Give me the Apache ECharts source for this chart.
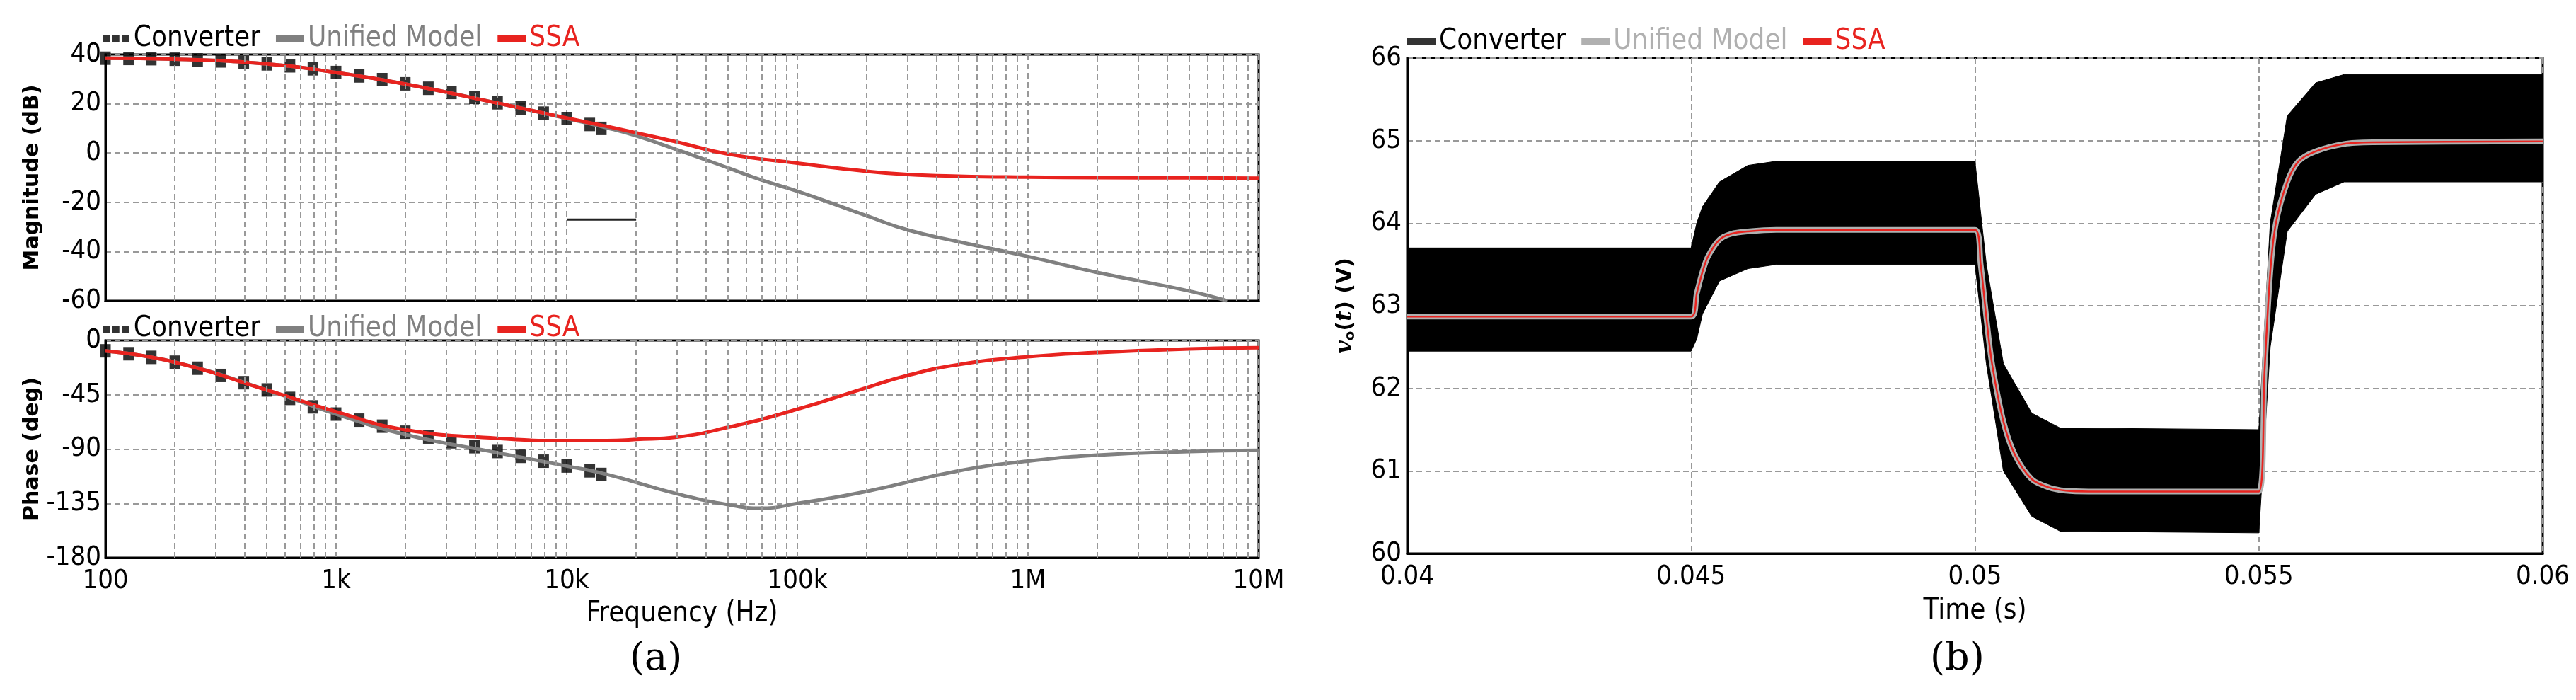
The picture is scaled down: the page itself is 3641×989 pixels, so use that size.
<!DOCTYPE html>
<html><head><meta charset="utf-8">
<script src="https://cdn.jsdelivr.net/npm/echarts@6/dist/echarts.min.js"></script>
<style>html,body{margin:0;background:#fff}#c{width:3641px;height:989px}</style></head>
<body><div id="c"></div>
<script>
// ---- Bode data ----
const convFreq = [100,126,158,200,251,316,398,501,631,794,1000,1259,1585,1995,2512,3162,3981,5012,6310,7943,10000,12589,14125];
const convMag  = [38.5,38.4,38.3,38.1,37.8,37.4,36.9,36.2,35.4,34.2,32.7,31.3,29.8,28.1,26.3,24.6,22.6,20.4,18.3,16.2,14,11.6,10];
const convPh   = [-8.6,-11,-14,-18,-23,-29,-35,-41,-48,-55,-61,-66,-71,-76,-80,-84,-88,-92,-96,-100,-104,-108,-111];
const uniFreq  = [100,200,500,1000,2000,5000,10000,15000,20000,30000,50000,70000,100000,200000,300000,500000,1000000,2000000,5000000,7300000];
const uniMag   = [38.5,38.1,36.2,32.7,28,20.3,14,10.2,7,1.4,-6,-11,-15.5,-25.5,-31.2,-36,-42,-48.5,-56,-60];
const uniPhF   = [100,200,500,1000,2000,5000,10000,15000,30000,50000,70000,100000,200000,500000,1000000,2000000,5000000,10000000];
const uniPh    = [-8.6,-18,-41,-61,-78,-93,-104,-111,-127,-136,-139,-135,-125,-108,-100,-95,-92,-91];
const ssaFreq  = [100,200,500,1000,2000,5000,10000,15000,20000,30000,50000,100000,200000,300000,500000,1000000,2000000,5000000,10000000];
const ssaMag   = [38.5,38.1,36.2,32.7,28,20.3,14.2,10.8,8.2,4.5,-0.4,-4.1,-7.4,-8.7,-9.4,-9.8,-10,-10.1,-10.2];
const ssaPh    = [-8.6,-18,-41,-59,-74,-81,-83,-83,-82,-80,-72,-57,-39,-29,-20,-13.5,-10,-7,-6];
const strayF   = [10000,20000];
const strayM   = [-27,-27];
const minorGrid = [200,300,400,500,600,700,800,900,2000,3000,4000,5000,6000,7000,8000,9000,20000,30000,40000,50000,60000,70000,80000,90000,200000,300000,400000,500000,600000,700000,800000,900000,2000000,3000000,4000000,5000000,6000000,7000000,8000000,9000000];
const freqLabels = {100:'100',1000:'1k',10000:'10k',100000:'100k',1000000:'1M',10000000:'10M'};
// ---- Time-domain data ----
const tEnv  = [0.04,0.045,0.0451,0.0452,0.0455,0.046,0.0465,0.05,0.0502,0.0505,0.051,0.0515,0.055,0.0552,0.0555,0.056,0.0565,0.06];
const envHi = [63.7,63.7,64.0,64.2,64.5,64.7,64.75,64.75,63.5,62.3,61.7,61.52,61.5,64.0,65.3,65.7,65.8,65.8];
const envLo = [62.45,62.45,62.6,62.9,63.3,63.45,63.5,63.5,62.3,61.0,60.45,60.27,60.25,62.5,63.9,64.35,64.5,64.5];
const tAvg  = [0.04,0.045,0.0451,0.0452,0.0453,0.0455,0.0457,0.046,0.0465,0.05,0.0501,0.0502,0.0503,0.0505,0.0507,0.051,0.0513,0.0516,0.052,0.055,0.0551,0.0552,0.0553,0.0555,0.0557,0.056,0.0565,0.057,0.06];
const vAvg  = [62.87,62.87,63.15,63.41,63.6,63.8,63.87,63.9,63.92,63.92,63.5,62.86,62.3,61.6,61.2,60.9,60.8,60.76,60.75,60.75,62.2,63.4,64.0,64.5,64.75,64.87,64.96,64.98,64.99];

const F = '"Liberation Sans Narrow","DejaVu Sans Condensed",sans-serif';
const gridLine = {show:true,lineStyle:{color:'#999',type:[8,5],width:2}};
const frame = {show:true,onZero:false,lineStyle:{color:'#000',width:3}};
const zip=(a,b)=>a.map((v,i)=>[v,b[i]]);
const tick = {fontFamily:F,fontSize:38,color:'#000'};
const convIcon = 'path://M0,0h8v8h-8zM11,0h8v8h-8zM22,0h8v8h-8z';

function bodeX(gi, showLab){
  return {type:'log',gridIndex:gi,min:100,max:10000000,logBase:10,
    axisLine:frame,axisTick:{show:false},splitLine:gridLine,
    axisLabel:{show:showLab,...tick,margin:14,formatter:v=>freqLabels[Math.round(v)]||''},
    name:showLab?'Frequency (Hz)':'',nameLocation:'middle',nameGap:60,
    nameTextStyle:{fontFamily:F,fontSize:40,color:'#000'}};
}
function legendFor(top,left,uniColor,convLine){
  return {top:top,left:left,itemGap:22,itemWidth:40,itemHeight:10,
    textStyle:{fontFamily:F,fontSize:40},
    data:[{name:'Converter',icon:convLine?'rect':convIcon,textStyle:{color:'#000'},itemStyle:{color:'#000'}},
          {name:'Unified Model',icon:'rect',textStyle:{color:uniColor},itemStyle:{color:uniColor}},
          {name:'SSA',icon:'rect',textStyle:{color:'#e8231f'},itemStyle:{color:'#e8231f'}}]};
}
const minorML = {silent:true,symbol:'none',label:{show:false},lineStyle:{color:'#999',type:[8,5],width:2},data:minorGrid.map(v=>({xAxis:v}))};

function renderBand(params, api){
  const pts = [];
  for(let i=0;i<tEnv.length;i++) pts.push(api.coord([tEnv[i],envHi[i]]));
  for(let i=tEnv.length-1;i>=0;i--) pts.push(api.coord([tEnv[i],envLo[i]]));
  return {type:'polygon',shape:{points:pts},style:{fill:'#000',stroke:'#000',lineWidth:1}};
}

const option = {
  animation:false,
  legend:[legendFor(30,140,'#808080',false),legendFor(440,140,'#808080',false),legendFor(34,1984,'#b0b0b0',true)],
  grid:[{left:149,width:1630,top:77,height:348,show:true,borderColor:'#000',borderWidth:3},
        {left:149,width:1630,top:481,height:307,show:true,borderColor:'#000',borderWidth:3},
        {left:1989,width:1605,top:82,height:700,show:true,borderColor:'#000',borderWidth:3}],
  xAxis:[bodeX(0,false),bodeX(1,true),
    {type:'value',gridIndex:2,min:0.04,max:0.06,interval:0.005,axisLine:frame,axisTick:{show:false},
     splitLine:gridLine,axisLabel:{...tick,margin:14,formatter:v=>String(parseFloat(v.toFixed(3)))},
     name:'Time (s)',nameLocation:'middle',nameGap:62,nameTextStyle:{fontFamily:F,fontSize:40,color:'#000'}}],
  yAxis:[
    {type:'value',gridIndex:0,min:-60,max:40,interval:20,axisLine:frame,axisTick:{show:false},splitLine:gridLine,
     axisLabel:{...tick,margin:6},name:'Magnitude (dB)',nameLocation:'middle',nameGap:88,
     nameTextStyle:{fontFamily:'DejaVu Sans',fontWeight:'bold',fontSize:30,color:'#000'}},
    {type:'value',gridIndex:1,min:-180,max:0,interval:45,axisLine:frame,axisTick:{show:false},splitLine:gridLine,
     axisLabel:{...tick,margin:6},name:'Phase (deg)',nameLocation:'middle',nameGap:88,
     nameTextStyle:{fontFamily:'DejaVu Sans',fontWeight:'bold',fontSize:30,color:'#000'}},
    {type:'value',gridIndex:2,min:60,max:66,interval:1,axisLine:frame,axisTick:{show:false},splitLine:gridLine,
     axisLabel:{...tick,margin:8},name:'{v|v}{s|o}{n|(}{v|t}{n|) (V)}',nameLocation:'middle',nameGap:70,
     nameTextStyle:{rich:{v:{fontFamily:'DejaVu Serif',fontStyle:'italic',fontWeight:'bold',fontSize:32},
       s:{fontFamily:'DejaVu Sans',fontWeight:'bold',fontSize:20,verticalAlign:'bottom',padding:[14,0,0,0]},
       n:{fontFamily:'DejaVu Sans',fontWeight:'bold',fontSize:30}}}}
  ],
  series:[
    {name:'Unified Model',type:'line',xAxisIndex:0,yAxisIndex:0,data:zip(uniFreq,uniMag),smooth:true,symbol:'none',lineStyle:{color:'#808080',width:5},markLine:minorML},
    {name:'SSA',type:'line',xAxisIndex:0,yAxisIndex:0,data:zip(ssaFreq,ssaMag),smooth:true,symbol:'none',lineStyle:{color:'#e8231f',width:5}},
    {name:'Converter',type:'scatter',xAxisIndex:0,yAxisIndex:0,data:zip(convFreq,convMag),symbol:'rect',symbolSize:[15,19],itemStyle:{color:'#000'}},
    {name:'stray',type:'line',xAxisIndex:0,yAxisIndex:0,data:zip(strayF,strayM),symbol:'none',lineStyle:{color:'#222',width:3}},
    {name:'Unified Model',type:'line',xAxisIndex:1,yAxisIndex:1,data:zip(uniPhF,uniPh),smooth:true,symbol:'none',lineStyle:{color:'#808080',width:5},markLine:minorML},
    {name:'SSA',type:'line',xAxisIndex:1,yAxisIndex:1,data:zip(ssaFreq,ssaPh),smooth:true,symbol:'none',lineStyle:{color:'#e8231f',width:5}},
    {name:'Converter',type:'scatter',xAxisIndex:1,yAxisIndex:1,data:zip(convFreq,convPh),symbol:'rect',symbolSize:[15,19],itemStyle:{color:'#000'}},
    {name:'Converter',type:'custom',xAxisIndex:2,yAxisIndex:2,data:[[0.05,63]],renderItem:renderBand,itemStyle:{color:'#000'},clip:true},
    {name:'Unified Model',type:'line',xAxisIndex:2,yAxisIndex:2,data:zip(tAvg,vAvg),smooth:0.3,symbol:'none',lineStyle:{color:'#b0b0b0',width:8},z:5},
    {name:'SSA',type:'line',xAxisIndex:2,yAxisIndex:2,data:zip(tAvg,vAvg),smooth:0.3,symbol:'none',lineStyle:{color:'#e8231f',width:2.5},z:6}
  ],
  graphic:[
    {type:'text',left:890,top:905,style:{text:'(a)',font:'54px "DejaVu Serif"',fill:'#000'}},
    {type:'text',left:2728,top:905,style:{text:'(b)',font:'54px "DejaVu Serif"',fill:'#000'}}
  ]
};
const chart = echarts.init(document.getElementById('c'));
chart.setOption(option);
</script></body></html>
